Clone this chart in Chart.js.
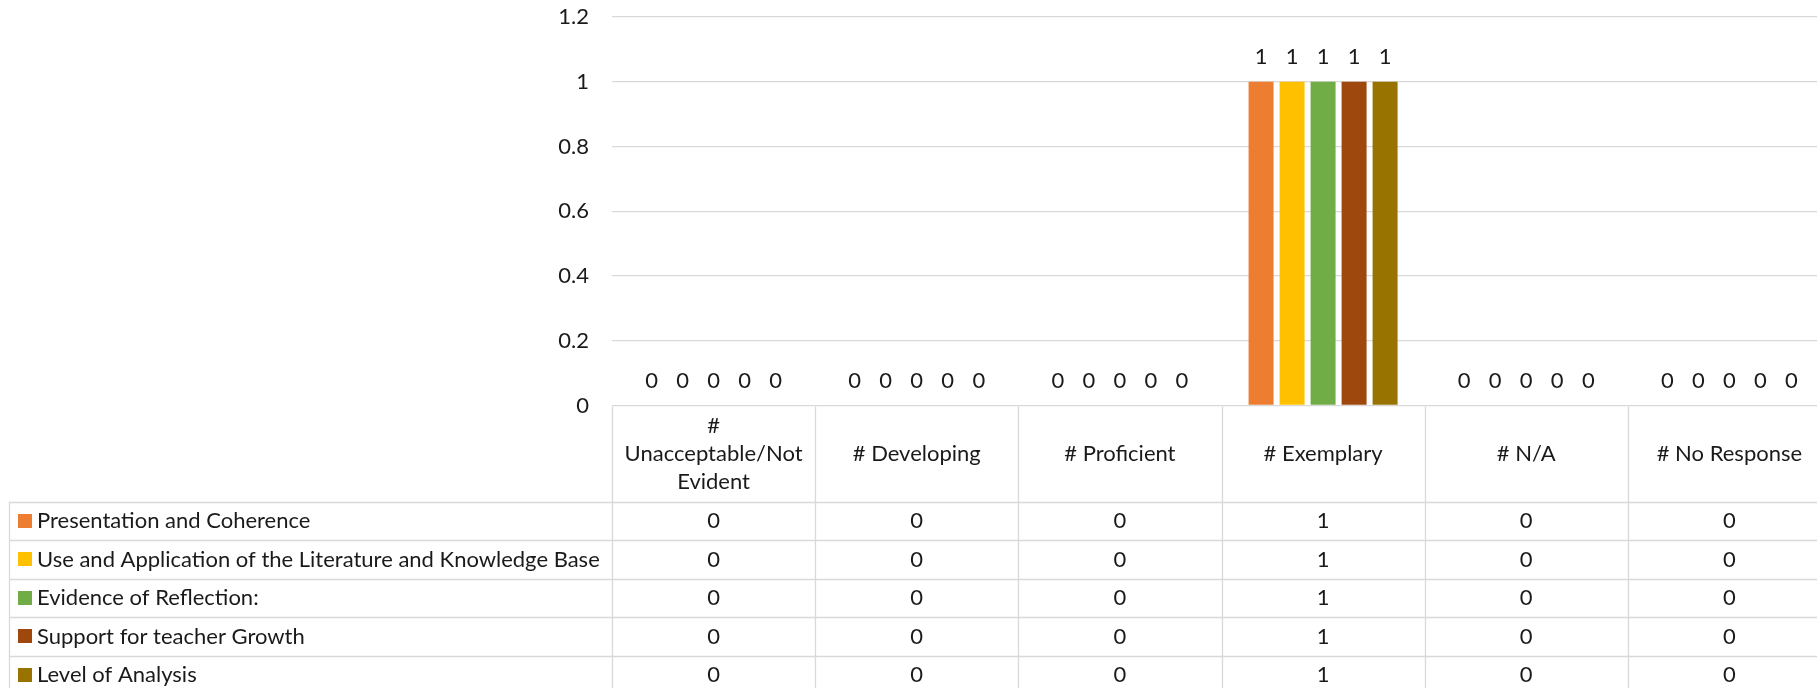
<!DOCTYPE html>
<html><head><meta charset="utf-8">
<script src="https://cdn.jsdelivr.net/npm/chart.js@4.4.0/dist/chart.umd.min.js"></script>
<style>
html,body{margin:0;padding:0;overflow:hidden;background:#fff;width:1817px;height:688px}
#wrap{position:absolute;left:0;top:0;width:1832px;height:688px}
canvas{display:block}
</style></head><body>
<div id="wrap"><canvas id="c" width="1832" height="688" style="width:1832px;height:688px"></canvas></div>
<script>
// ---- data ----
const categories = [['#', 'Unacceptable/Not', 'Evident'], ['# Developing'], ['# Proficient'], ['# Exemplary'], ['# N/A'], ['# No Response']];
const seriesNames = ['Presentation and Coherence', 'Use and Application of the Literature and Knowledge Base', 'Evidence of Reflection:', 'Support for teacher Growth', 'Level of Analysis'];
const presentationCoherence = [0, 0, 0, 1, 0, 0];
const literatureKnowledge = [0, 0, 0, 1, 0, 0];
const evidenceReflection = [0, 0, 0, 1, 0, 0];
const teacherGrowth = [0, 0, 0, 1, 0, 0];
const levelAnalysis = [0, 0, 0, 1, 0, 0];
const seriesColors = ['#ED7D31', '#FFC000', '#70AD47', '#9E480E', '#997300'];
const yTickLabels = ['0', '0.2', '0.4', '0.6', '0.8', '1', '1.2'];

const seriesValues = [presentationCoherence, literatureKnowledge, evidenceReflection, teacherGrowth, levelAnalysis];

const FONT_FAMILY = 'Lato';
const FONT_SIZE = 22;
const TEXT_COLOR = '#1a1a1a';
const LINE_COLOR = '#d9d9d9';
const HEADER_H = 95.2;
const ROW_H = 38.5;
const TABLE_LEFT = 9.5;

const datalabelPlugin = {
  id: 'valueLabels',
  afterDatasetsDraw(chart) {
    const ctx = chart.ctx;
    ctx.save();
    ctx.font = FONT_SIZE + 'px ' + FONT_FAMILY;
    ctx.fillStyle = TEXT_COLOR;
    ctx.textAlign = 'center';
    ctx.textBaseline = 'middle';
    chart.data.datasets.forEach((ds, di) => {
      const meta = chart.getDatasetMeta(di);
      meta.data.forEach((el, i) => {
        ctx.fillText(String(ds.data[i]), el.x, el.y - 25);
      });
    });
    ctx.restore();
  }
};

const tablePlugin = {
  id: 'dataTable',
  afterDraw(chart) {
    const ctx = chart.ctx;
    const area = chart.chartArea;
    const xs = chart.scales.x;
    const n = categories.length;
    const colW = (area.right - area.left) / n;
    const top = Math.round(area.bottom) + 0.5;
    const rowsTop = top + HEADER_H;
    const bottom = rowsTop + ROW_H * seriesNames.length;
    ctx.save();
    ctx.strokeStyle = LINE_COLOR;
    ctx.lineWidth = 1.3;
    for (let i = 0; i <= n; i++) {
      const x = Math.round(area.left + i * colW) + 0.5;
      ctx.beginPath(); ctx.moveTo(x, top); ctx.lineTo(x, bottom); ctx.stroke();
    }
    ctx.beginPath(); ctx.moveTo(TABLE_LEFT, rowsTop); ctx.lineTo(TABLE_LEFT, bottom); ctx.stroke();
    for (let r = 0; r <= seriesNames.length; r++) {
      const y = Math.round(rowsTop + r * ROW_H) + 0.5;
      ctx.beginPath(); ctx.moveTo(TABLE_LEFT, y); ctx.lineTo(area.right, y); ctx.stroke();
    }
    ctx.font = FONT_SIZE + 'px ' + FONT_FAMILY;
    ctx.fillStyle = TEXT_COLOR;
    ctx.textBaseline = 'middle';
    ctx.textAlign = 'center';
    const headMid = top + HEADER_H / 2;
    const lh = 28;
    categories.forEach((lines, i) => {
      const cx = xs.getPixelForValue(i);
      lines.forEach((t, k) => {
        ctx.fillText(t, cx, headMid + (k - (lines.length - 1) / 2) * lh);
      });
    });
    seriesNames.forEach((name, r) => {
      const cy = rowsTop + r * ROW_H + ROW_H / 2;
      ctx.fillStyle = seriesColors[r];
      ctx.fillRect(18, Math.round(cy - 7), 14, 14);
      ctx.fillStyle = TEXT_COLOR;
      ctx.textAlign = 'left';
      ctx.fillText(name, 37, cy);
      ctx.textAlign = 'center';
      seriesValues[r].forEach((v, i) => {
        ctx.fillText(String(v), xs.getPixelForValue(i), cy);
      });
    });
    ctx.restore();
  }
};

new Chart(document.getElementById('c'), {
  type: 'bar',
  data: {
    labels: categories.map(c => c.join(' ')),
    datasets: seriesNames.map((name, i) => ({
      label: name,
      data: seriesValues[i],
      backgroundColor: seriesColors[i],
      borderWidth: 0,
      categoryPercentage: 0.763,
      barPercentage: 0.806
    }))
  },
  options: {
    responsive: false,
    animation: false,
    devicePixelRatio: 1,
    layout: { padding: { left: 0, right: 1, top: 17, bottom: 282.5 } },
    plugins: { legend: { display: false }, tooltip: { enabled: false } },
    scales: {
      x: { display: false },
      y: {
        min: 0, max: 1.2,
        border: { display: false },
        grid: { color: LINE_COLOR, lineWidth: 1.3, drawTicks: false },
        ticks: {
          stepSize: 0.2,
          padding: 23,
          color: TEXT_COLOR,
          font: { family: FONT_FAMILY, size: FONT_SIZE },
          callback: (v, i) => yTickLabels[i]
        },
        afterFit(scale) { scale.width = 612; scale.paddingTop = 0; scale.paddingBottom = 0; }
      }
    }
  },
  plugins: [datalabelPlugin, tablePlugin]
});
</script>
</body></html>
